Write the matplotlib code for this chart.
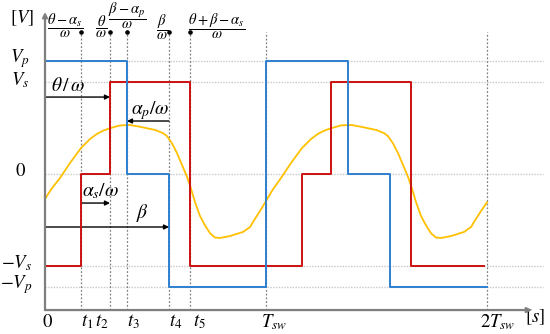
import matplotlib
matplotlib.use("Agg")
import matplotlib.pyplot as plt

# time axis in units of T_sw
t1, t2, t3, t4, t5 = 0.163, 0.294, 0.371, 0.561, 0.656
Tsw = 1.0
Vp, Vs = 1.0, 0.81

# primary (blue) and secondary (red) square waves: switching times and levels
blue_t = [0, t3, t3, t4, t4, Tsw, Tsw, Tsw + t3, Tsw + t3, Tsw + t4, Tsw + t4, 2 * Tsw]
blue_v = [Vp, Vp, 0, 0, -Vp, -Vp, Vp, Vp, 0, 0, -Vp, -Vp]
red_t = [0, t1, t1, t2, t2, t5, t5, Tsw + t1, Tsw + t1, Tsw + t2, Tsw + t2, Tsw + t5, Tsw + t5, 1.986]
red_v = [-Vs, -Vs, 0, 0, Vs, Vs, -Vs, -Vs, 0, 0, Vs, Vs, -Vs, -Vs]

# inductor current (yellow)
cur_t = [0.0, 0.03, 0.068, 0.113, 0.163, 0.204, 0.235, 0.265, 0.294, 0.339, 0.385, 0.430,
         0.498, 0.534, 0.552, 0.575, 0.597, 0.620, 0.643, 0.656, 0.679, 0.701, 0.724,
         0.747, 0.769, 0.792, 0.837, 0.896, 0.928, 0.941, 0.973, 1.0,
         1.03, 1.068, 1.113, 1.163, 1.204, 1.235, 1.265, 1.294, 1.339, 1.385, 1.430,
         1.498, 1.534, 1.552, 1.575, 1.597, 1.620, 1.643, 1.656, 1.679, 1.701, 1.724,
         1.747, 1.769, 1.792, 1.837, 1.896, 1.928, 1.941, 1.973, 2.0]
cur_v = [-0.22, -0.13, -0.035, 0.097, 0.230, 0.310, 0.355, 0.385, 0.405, 0.430, 0.434, 0.418,
         0.390, 0.362, 0.335, 0.270, 0.186, 0.080, -0.027, -0.100, -0.250, -0.370, -0.455,
         -0.525, -0.562, -0.566, -0.549, -0.513, -0.469, -0.425, -0.327, -0.239,
         -0.14, -0.035, 0.097, 0.230, 0.310, 0.355, 0.385, 0.405, 0.430, 0.434, 0.418,
         0.390, 0.362, 0.335, 0.270, 0.186, 0.080, -0.027, -0.100, -0.250, -0.370, -0.455,
         -0.525, -0.562, -0.566, -0.549, -0.513, -0.469, -0.425, -0.327, -0.25]

x_ticks = [0, t1, t2, t3, t4, t5, Tsw, 2 * Tsw]
x_labels = [r'$0$', r'$t_1$', r'$t_2$', r'$t_3$', r'$t_4$', r'$t_5$', r'$T_{sw}$', r'$2T_{sw}$']
x_label_pos = [0.01, 0.19, 0.258, 0.398, 0.593, 0.701, 1.036, 2.05]
y_levels = [Vp, Vs, 0, -Vs, -Vp]
y_labels = [r'$V_p$', r'$V_s$', r'$0$', r'$-V_s$', r'$-V_p$']

plt.rcParams['mathtext.fontset'] = 'stix'
plt.rcParams['font.family'] = 'STIXGeneral'

fig = plt.figure(figsize=(5.5, 3.34), dpi=100)
ax = fig.add_axes([0, 0, 1, 1])
ax.set_xlim(-0.2036, 2.285)
ax.set_ylim(-1.416, 1.540)
ax.axis('off')

x_axis_y = -1.204
dot_y = 1.257
grid_col = '#c8c8c8'
vline_col = '#808080'

# horizontal level grid lines
for v in y_levels:
    ax.plot([0, 2.253], [v, v], ls=(0, (1, 1)), color=grid_col, lw=1.0, zorder=1)

# vertical dotted markers
for t in [t1, t2, t3, t4, t5, Tsw, 2 * Tsw]:
    ax.plot([t, t], [x_axis_y, dot_y], ls=(0, (1.5, 1.5)), color=vline_col, lw=0.9, zorder=1)
ax.plot([t1, t2, t3, t4, t5], [dot_y] * 5, 'o', color='k', ms=2.3, zorder=5)

# waveforms
ax.plot(cur_t, cur_v, color='#ffc000', lw=1.3, zorder=3)
ax.plot(red_t, red_v, color='#cc1010', lw=1.4, zorder=4)
ax.plot(blue_t, blue_v, color='#2e7fd0', lw=1.4, zorder=4)

# axes with arrows
arr = dict(arrowstyle='-|>', color='#7f7f7f', lw=1.6, mutation_scale=7, shrinkA=0, shrinkB=0)
ax.annotate('', xy=(0, 1.434), xytext=(0, x_axis_y), arrowprops=arr, zorder=6)
ax.annotate('', xy=(2.204, x_axis_y), xytext=(0, x_axis_y), arrowprops=arr, zorder=6)

# tick labels
for xp, lab in zip(x_label_pos, x_labels):
    ax.text(xp, -1.31, lab, ha='center', va='center', fontsize=13.5)
ax.text(2.217, -1.27, r'$[s]$', ha='center', va='center', fontsize=13.5)
for v, lab in zip(y_levels, y_labels):
    xo = -0.113 if not lab.startswith(r'$-') else -0.128
    ax.text(xo, v + 0.02, lab, ha='center', va='center', fontsize=13.5)
ax.text(-0.104, 1.38, r'$[V]$', ha='center', va='center', fontsize=13.5)

# top fraction labels
fr = dict(ha='center', va='center', fontsize=10.5)
ax.text(0.090, 1.31, r'$\dfrac{\theta-\alpha_s}{\omega}$', **fr)
ax.text(0.255, 1.30, r'$\dfrac{\theta}{\omega}$', **fr)
ax.text(0.371, 1.40, r'$\dfrac{\beta-\alpha_p}{\omega}$', **fr)
ax.text(0.530, 1.30, r'$\dfrac{\beta}{\omega}$', **fr)
ax.text(0.778, 1.31, r'$\dfrac{\theta+\beta-\alpha_s}{\omega}$', **fr)

# dimension arrows
karr = dict(arrowstyle='-|>', color='k', lw=1.0, mutation_scale=7, shrinkA=0, shrinkB=0)
ax.annotate('', xy=(t2, 0.681), xytext=(0, 0.681), arrowprops=karr)
ax.text(0.104, 0.78, r'$\theta\,/\,\omega$', ha='center', va='center', fontsize=14)
ax.annotate('', xy=(t3, 0.469), xytext=(t4, 0.469), arrowprops=karr)
ax.text(0.475, 0.566, r'$\alpha_p/\omega$', ha='center', va='center', fontsize=14)
ax.annotate('', xy=(t2, -0.257), xytext=(t1, -0.257), arrowprops=karr)
ax.text(0.253, -0.15, r'$\alpha_s/\omega$', ha='center', va='center', fontsize=14)
ax.annotate('', xy=(t4, -0.469), xytext=(0, -0.469), arrowprops=karr)
ax.text(0.443, -0.345, r'$\beta$', ha='center', va='center', fontsize=14)

fig.savefig('out.png', dpi=100)
